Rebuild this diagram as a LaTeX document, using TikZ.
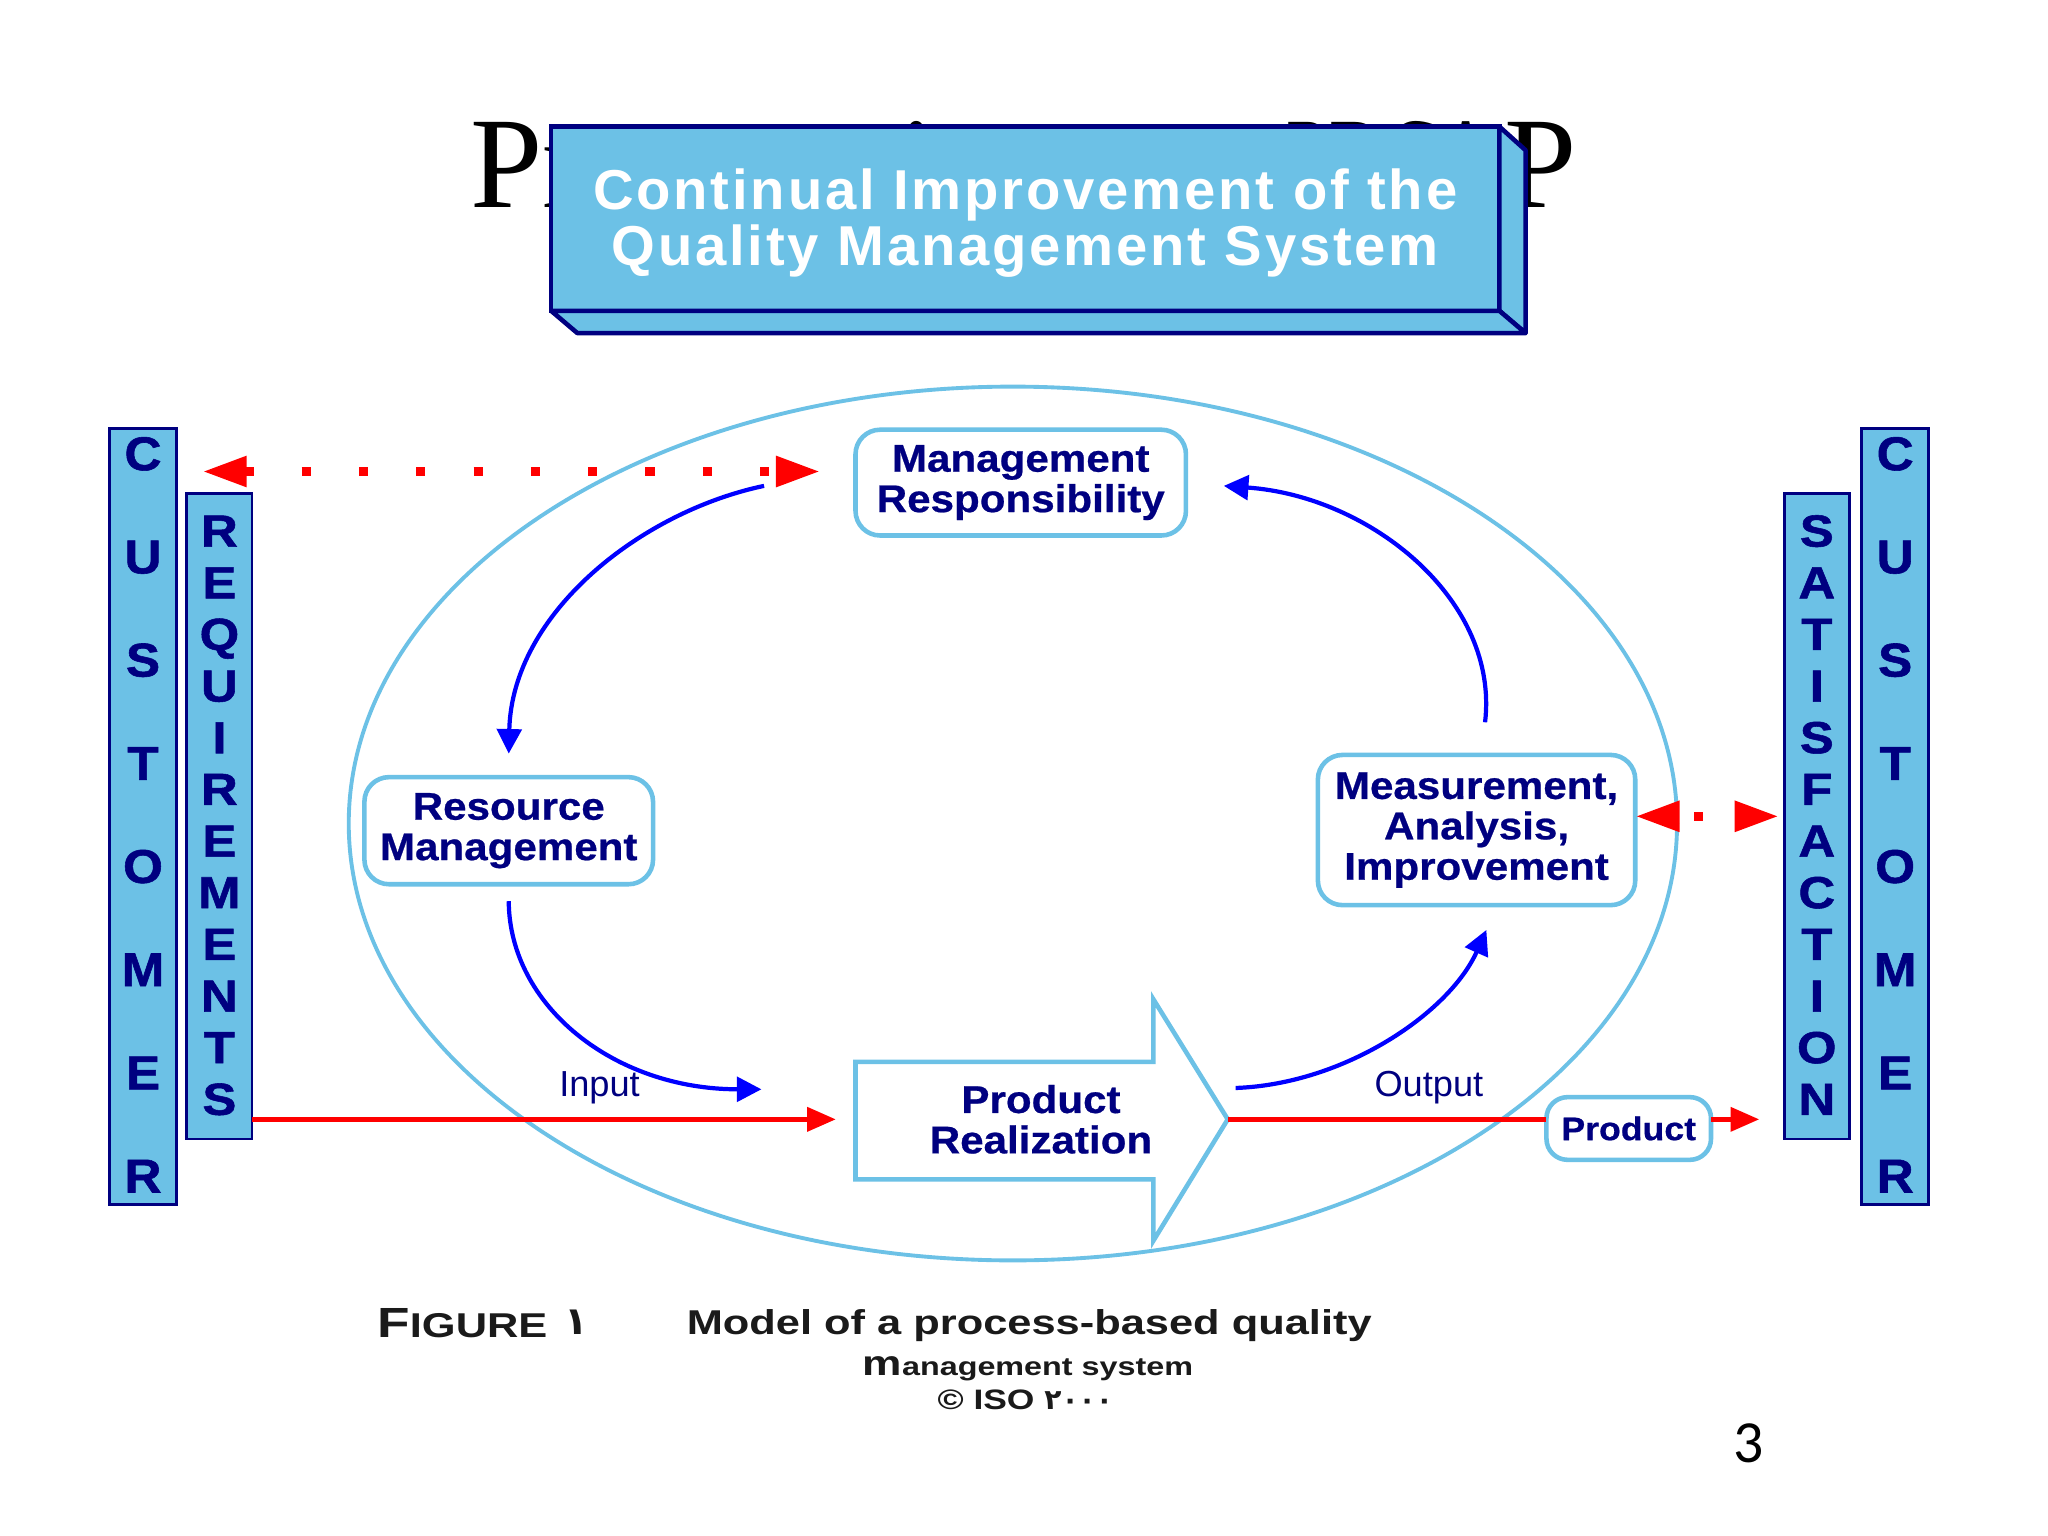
\documentclass[tikz,border=0pt]{standalone}
\usepackage{fontspec}
\setmainfont{Liberation Sans}
\newfontfamily\nodefnt[FakeStretch=1.09,FakeBold=0.6]{Liberation Sans Bold}
\newfontfamily\barfnt[FakeStretch=1.08,FakeBold=1.2]{Liberation Sans Bold}
\newfontfamily\barfntw[FakeStretch=1.13,FakeBold=1.2]{Liberation Sans Bold}
\newfontfamily\ttlfnt[LetterSpace=5]{Liberation Sans Bold}
\newfontfamily\capfnt[FakeStretch=1.26]{Liberation Sans Bold}
\newfontfamily\ttlserif{Liberation Serif}
\newfontfamily\ttlserifc[FakeStretch=0.6]{Liberation Serif}
\newfontfamily\arabicfnt{DejaVu Sans Bold}
\newfontfamily\pagefnt{Carlito}
\usetikzlibrary{arrows.meta,calc,shapes.geometric}
\definecolor{lblue}{HTML}{6CC1E6}
\definecolor{navy}{HTML}{000080}
\definecolor{arcblue}{HTML}{0000FF}
\definecolor{capgray}{HTML}{1A1A1A}
\newcommand\pxu{0.013061cm}
\tikzset{
  every node/.style={inner sep=0pt, outer sep=0pt},
  procbox/.style={draw=lblue, line width=1.3pt, fill=white, rounded corners=7pt,
    align=center, text=navy, font=\nodefnt\fontsize{11}{11.5}\selectfont},
  bar/.style={draw=navy, line width=0.8pt, fill=lblue},
  bigletter/.style={text=navy, anchor=base, font=\barfnt\fontsize{13.5}{14}\selectfont},
  smallletter/.style={text=navy, anchor=base, font=\barfntw\fontsize{12.8}{13}\selectfont},
  bluearc/.style={draw=arcblue, line width=1.2pt, -{Triangle[length=7pt,width=7pt]}},
  redline/.style={draw=red, line width=1.5pt, -{Triangle[length=8.2pt,width=6.7pt]}},
  redplain/.style={draw=red, line width=1.5pt},
  reddots/.style={draw=red, line width=2.6pt, dash pattern=on 2.6pt off 13.7pt,
    {Triangle[length=12.6pt,width=8.2pt]}-{Triangle[length=12.6pt,width=8.2pt]}},
  lbl/.style={text=navy, font=\fontsize{10.3}{11}\selectfont},
  facestyle/.style={draw=navy, line width=1.3pt, fill=lblue, line join=round},
  captxt/.style={text=capgray, font=\capfnt},
}
\begin{document}
\begin{tikzpicture}[x=0.013061cm, y=-0.013061cm]
\path[use as bounding box, fill=white] (0,0) rectangle (1568,1176);

% slide title, mostly hidden behind the box
\node[anchor=base west, font=\ttlserif\fontsize{37}{37}\selectfont] (ttlL) at (360,159) {Process in};
\node[anchor=base west, font=\ttlserifc\fontsize{37}{37}\selectfont] (ttlM) at (985,159) {PDCA};
\node[anchor=base east, font=\ttlserif\fontsize{37}{37}\selectfont] (ttlR) at (1207,159) {P};

% 3D title box
\node[draw=navy, line width=1.3pt, fill=lblue, minimum width=726*\pxu, minimum height=141*\pxu] (titlebox) at (785,167.5) {};
\draw[facestyle] (titlebox.north east) -- ($(titlebox.north east)+(20,18)$) -- ($(titlebox.south east)+(20,17)$) -- (titlebox.south east) -- cycle;
\draw[facestyle] (titlebox.south west) -- ($(titlebox.south west)+(20,17)$) -- ($(titlebox.south east)+(20,17)$) -- (titlebox.south east) -- cycle;
\node[text=white, align=center, font=\ttlfnt\fontsize{16}{15.9}\selectfont] (titletext) at (785,171)
  {Continual Improvement of the\\Quality Management System};

% big ellipse
\draw[lblue, line width=1.1pt] (775.5,630.5) ellipse [x radius=508.5, y radius=334.5];

% side bars
\node[bar, minimum width=51*\pxu, minimum height=594*\pxu] (cust1) at (109.5,625) {};
\node[bar, minimum width=50*\pxu, minimum height=494*\pxu] (req) at (168,625) {};
\node[bar, minimum width=50*\pxu, minimum height=494*\pxu] (sat) at (1391,625) {};
\node[bar, minimum width=51*\pxu, minimum height=594*\pxu] (cust2) at (1451,625) {};
\foreach \l [count=\i from 0] in {C,U,S,T,O,M,E,R} {
  \node[bigletter] (cla\i) at (109.5, 347+79*\i+13) {\l};
  \node[bigletter] (clb\i) at (1451, 347+79*\i+13) {\l};
}
\foreach \l [count=\i from 0] in {R,E,Q,U,I,R,E,M,E,N,T,S}
  \node[smallletter] (rq\i) at (168, 406+39.55*\i+12.5) {\l};
\foreach \l [count=\i from 0] in {S,A,T,I,S,F,A,C,T,I,O,N}
  \node[smallletter] (sf\i) at (1391, 406+39.55*\i+12.5) {\l};

% product realization arrow
\draw[draw=lblue, line width=1.3pt, fill=white, line join=miter]
  (655,813) -- (883,813) -- (883,765) -- (940,857) -- (883,950) -- (883,903) -- (655,903) -- cycle;
\node[text=navy, align=center, font=\nodefnt\fontsize{11}{11.5}\selectfont] (pr) at (797,857) {Product\\Realization};
\coordinate (prtip) at (940,857);
\coordinate (prleft) at (655,857);

% process boxes
\node[procbox, minimum width=253*\pxu, minimum height=81*\pxu] (mr) at (781.5,369.5) {Management\\Responsibility};
\node[procbox, minimum width=221*\pxu, minimum height=82*\pxu] (rm) at (389.5,636) {Resource\\Management};
\node[procbox, minimum width=243*\pxu, minimum height=115*\pxu] (mai) at (1130.5,635.5) {Measurement,\\Analysis,\\Improvement};
\node[procbox, minimum width=126*\pxu, minimum height=48*\pxu, rounded corners=6pt,
  font=\nodefnt\fontsize{9.3}{10}\selectfont] (product) at (1247,864) {Product};

% blue cycle arcs
\draw[bluearc] ($(mr.west)+(-70,2.5)$) .. controls (490,392) and (392,470) .. ($(rm.north)+(0,-18)$);
\draw[bluearc] ($(rm.south)+(0,13)$) .. controls (390,770) and (470,834) .. ($(prleft)+(-72,-23)$);
\draw[bluearc] ($(prtip)+(6,-24)$) .. controls (1030,830) and (1110,775) .. ($(mai.south)+(7.5,19)$);
\draw[bluearc] ($(mai.north)+(6.5,-25)$) .. controls (1148,460) and (1050,380) .. ($(mr.east)+(29,2.5)$);

% red input / output lines
\draw[redline] (req.east |- prleft) -- ($(prleft)+(-15,0)$);
\draw[redplain] (prtip) -- (product.west |- prtip);
\draw[redline] (product.east |- prtip) -- ($(sat.west |- prtip)+(-19,0)$);
\node[lbl] (inlbl) at (459,833) {Input};
\node[lbl] (outlbl) at (1094,833) {Output};

% red dotted information flows
\draw[reddots] ($(cust1.east |- mr.west)+(20,-8.5)$) -- ($(mr.west)+(-27,-8.5)$);
\draw[reddots, dash phase=11.5pt] (mai.east |- sat.west) -- ($(sat.west)+(-4,0)$);

% caption
\node[captxt, anchor=base west] (figlbl) at (289,1024) {{\fontsize{12}{12}\selectfont F}{\fontsize{9.8}{10}\selectfont IGURE}};
\node[text=capgray, anchor=base, font=\arabicfnt\fontsize{11}{12}\selectfont] (fignum) at (441,1022) {١};
\node[captxt, anchor=base, font=\capfnt\fontsize{9.8}{10}\selectfont] (cap1) at (788,1022) {Model of a process-based quality};
\node[captxt, anchor=base, font=\capfnt\fontsize{7.3}{8}\selectfont] (cap2) at (787,1053) {{\fontsize{10}{10}\selectfont m}anagement system};
\node[captxt, anchor=base, font=\capfnt\fontsize{8}{9}\selectfont] (cap3) at (785,1079) {© ISO {\arabicfnt ٢٠٠٠}};

% page number
\node[anchor=base, font=\pagefnt\fontsize{17}{17}\selectfont] (pgnum) at (1339,1120) {3};
\end{tikzpicture}
\end{document}
